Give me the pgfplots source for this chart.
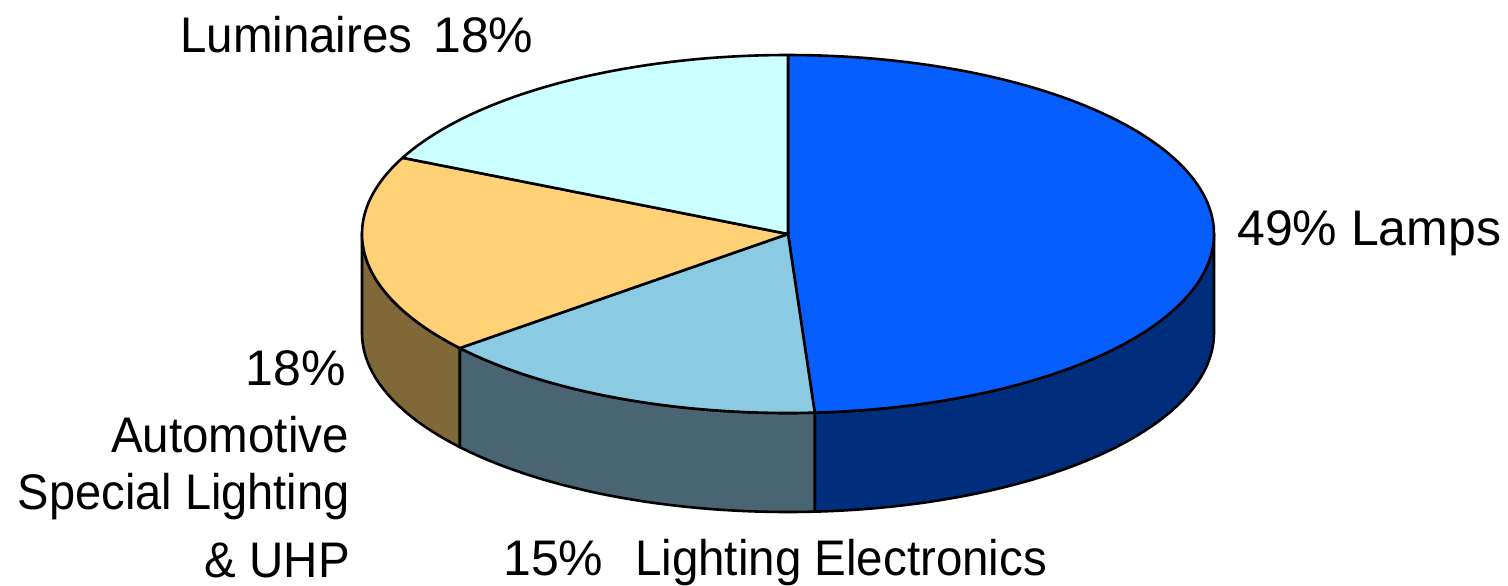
\documentclass[border=0pt]{standalone}
\usepackage{graphicx}
\usepackage{pgfplots}
\usepackage{pgfplotstable}
\pgfplotsset{compat=1.18}
\usepackage{fontspec}
\setmainfont{Liberation Sans}

\definecolor{lampsTop}{RGB}{6,94,255}
\definecolor{lampsSide}{RGB}{0,46,125}
\definecolor{elecTop}{RGB}{138,203,227}
\definecolor{elecSide}{RGB}{72,101,113}
\definecolor{autoTop}{RGB}{255,209,118}
\definecolor{autoSide}{RGB}{128,104,56}
\definecolor{lumTop}{RGB}{204,255,255}

% shares in percent, clockwise from twelve o'clock
\pgfplotstableread{
segment share
Lamps 49
Electronics 15
Automotive 18
Luminaires 18
}\sharetable

\pgfplotstablegetelem{0}{share}\of\sharetable \let\pLamps\pgfplotsretval
\pgfplotstablegetelem{1}{share}\of\sharetable \let\pElec\pgfplotsretval
\pgfplotstablegetelem{2}{share}\of\sharetable \let\pAuto\pgfplotsretval
\pgfplotstablegetelem{3}{share}\of\sharetable \let\pLum\pgfplotsretval

% pie geometry in axis units
\def\pieX{788}
\def\pieY{234}
\def\pieRx{426}
\def\pieRy{179}
\def\pieDepth{99}

% slice boundary angles
\pgfmathsetmacro\aA{90}
\pgfmathsetmacro\aB{\aA-3.6*\pLamps}
\pgfmathsetmacro\aC{\aB-3.6*\pElec}
\pgfmathsetmacro\aD{\aC-3.6*\pAuto}
\pgfmathsetmacro\aE{\aD-3.6*\pLum}

\tikzset{
  pieedge/.style={draw=black, line width=2.6pt, line join=round},
  declare function={
    sang(\t,\lo,\hi)=ifthenelse(\t<=1, \lo+(\hi-\lo)*\t,
                     ifthenelse(\t<=2, \hi, \hi-(\hi-\lo)*(\t-2)));
    sdrop(\t)=ifthenelse(\t<=1, 0, ifthenelse(\t<=2, \t-1, 1));
  },
}

% top face of a slice: colour, end angle, start angle
\newcommand\topface[3]{%
  \addplot[fill=#1, pieedge, domain=#2:#3, samples=120, variable=\t]
    ({\pieX+\pieRx*cos(\t)}, {\pieY-\pieRy*sin(\t)})
    -- (axis cs:\pieX,\pieY) -- cycle;
}
% visible rim of a slice: colour, low angle, high angle
\newcommand\sideface[3]{%
  \addplot[fill=#1, pieedge, domain=0:3, samples=181, variable=\t]
    ({\pieX+\pieRx*cos(sang(\t,#2,#3))},
     {\pieY-\pieRy*sin(sang(\t,#2,#3))+\pieDepth*sdrop(\t)})
    -- cycle;
}
% label text, slightly condensed
\newcommand\lbl[2][0.95]{\scalebox{#1}[1]{#2}}

\begin{document}
\begin{tikzpicture}
\begin{axis}[
  width=1508pt, height=583pt, scale only axis,
  xmin=0, xmax=1508, ymin=0, ymax=583, y dir=reverse,
  hide axis, clip=false,
]
  % rim
  \sideface{lampsSide}{\aB}{0}
  \sideface{elecSide}{\aC}{\aB}
  \sideface{autoSide}{-180}{\aC}
  % top
  \topface{lampsTop}{\aB}{\aA}
  \topface{elecTop}{\aC}{\aB}
  \topface{autoTop}{\aD}{\aC}
  \topface{lumTop}{\aE}{\aD}

  % labels
  \begin{scope}[every node/.style={font=\fontsize{50}{60}\selectfont, inner sep=0pt}]
    \node[anchor=base west] at (axis cs:180,52) {\lbl[0.95]{Luminaires}};
    \node[anchor=base west] at (axis cs:433,52) {\lbl[1]{18\%}};
    \node[anchor=base west] at (axis cs:1237,245) {\lbl[1]{49\% Lamps}};
    \node[anchor=base east] at (axis cs:346,385) {\lbl[1]{18\%}};
    \node[anchor=base east] at (axis cs:349,452) {\lbl{Automotive}};
    \node[anchor=base east] at (axis cs:350,509) {\lbl[0.94]{Special Lighting}};
    \node[anchor=base east] at (axis cs:350,577) {\lbl{\& UHP}};
    \node[anchor=base west] at (axis cs:503,575) {\lbl[1]{15\%}};
    \node[anchor=base west] at (axis cs:635,575) {\lbl{Lighting Electronics}};
  \end{scope}
  \path (rel axis cs:0,0) (rel axis cs:1,1);
\end{axis}
\end{tikzpicture}
\end{document}
